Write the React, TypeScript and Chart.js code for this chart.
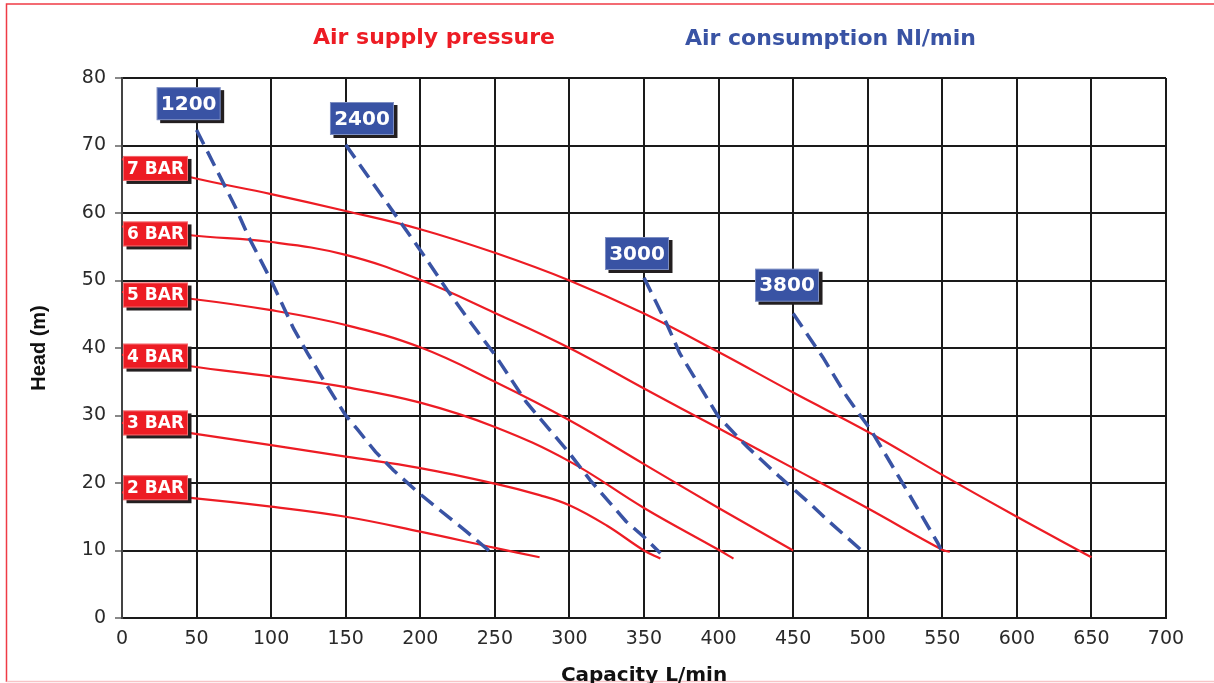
import React, { useEffect, useRef } from "react";
import { Chart, registerables } from "chart.js";

Chart.register(...registerables);

const RED = "#ed1c24";
const BLUE = "#3953a4";
const SHADOW = "#231f20";

// Axis ticks
const capacityMin = 0;
const capacityMax = 700;
const capacityStep = 50;
const headMin = 0;
const headMax = 80;
const headStep = 10;

// Air supply pressure curves: [capacity L/min, head m]
const pressureNames = ["7 BAR", "6 BAR", "5 BAR", "4 BAR", "3 BAR", "2 BAR"];
const bar7: [number, number][] = [
  [0, 68], [46, 65.3], [100, 62.8], [150, 60.3], [200, 57.6], [250, 54.1], [300, 50],
  [350, 45.1], [400, 39.4], [450, 33.4], [500, 27.6], [550, 21.2], [600, 15], [650, 9],
];
const bar6: [number, number][] = [
  [0, 58], [46, 56.7], [100, 55.7], [150, 53.8], [200, 50.1], [250, 45.2], [300, 40],
  [350, 34], [400, 28.1], [450, 22.2], [500, 16.25], [550, 10.1], [555, 9.8],
];
const bar5: [number, number][] = [
  [0, 48.3], [46, 47.3], [100, 45.6], [150, 43.4], [200, 40.1], [250, 35], [300, 29.3],
  [350, 22.8], [400, 16.3], [450, 10],
];
const bar4: [number, number][] = [
  [0, 39], [46, 37.3], [100, 35.8], [150, 34.2], [200, 31.9], [250, 28.3], [300, 23.2],
  [350, 16.3], [400, 10.1], [410, 8.8],
];
const bar3: [number, number][] = [
  [0, 28.9], [46, 27.4], [100, 25.6], [150, 23.9], [200, 22.2], [250, 19.9], [280, 18.2],
  [300, 16.7], [325, 13.7], [350, 10], [361, 8.8],
];
const bar2: [number, number][] = [
  [0, 18.6], [46, 17.8], [100, 16.5], [150, 15], [200, 12.8], [250, 10.4], [280, 9],
];
const pressureSeries = [bar7, bar6, bar5, bar4, bar3, bar2];
const pressureLabelHead = [66.6, 56.9, 47.85, 38.8, 28.9, 19.3];

// Air consumption curves (Nl/min): [capacity L/min, head m]
const consumptionNames = ["1200", "2400", "3000", "3800"];
const air1200: [number, number][] = [
  [50, 72.3], [76, 60.9], [85, 56.4], [100, 50], [115, 42.9], [125, 39], [135, 35.3],
  [150, 30], [158, 27.9], [170, 24.6], [182, 21.9], [198, 18.7], [213, 16], [231, 12.8], [248, 9.6],
];
const air2400: [number, number][] = [
  [150, 70.1], [184, 59.5], [200, 54.5], [218, 48.6], [231, 44.6], [250, 39], [271, 32],
  [300, 24.4], [314, 20.4], [338, 14.3], [350, 12], [361, 9.6],
];
const air3000: [number, number][] = [
  [350, 50.4], [365, 43.7], [374, 39.2], [400, 29.8], [419, 25.4], [441, 20.9], [461, 17],
  [473, 14.5], [498, 9.6],
];
const air3800: [number, number][] = [
  [450, 45.1], [470, 38.6], [486, 32.8], [495, 30], [502, 27.9], [526, 19], [547, 11.1], [549, 10.2],
];
const consumptionSeries = [air1200, air2400, air3000, air3800];
const consumptionLabelCapacity = [44.7, 160.9, 345.3, 445.9];
const consumptionLabelHead = [76.2, 74.0, 54.0, 49.3];

const toPoints = (s: [number, number][]) => s.map(([x, y]) => ({ x, y }));

function drawTag(ctx: CanvasRenderingContext2D, left: number, top: number, w: number, h: number, fill: string, text: string, font: string) {
  ctx.fillStyle = SHADOW;
  ctx.fillRect(left + 3.5, top + 3, w, h);
  ctx.fillStyle = fill;
  ctx.fillRect(left, top, w, h);
  ctx.strokeStyle = "rgba(255,255,255,0.35)";
  ctx.lineWidth = 1;
  ctx.strokeRect(left + 0.5, top + 0.5, w - 1, h - 1);
  ctx.fillStyle = "#ffffff";
  ctx.font = font;
  ctx.textAlign = "center";
  ctx.textBaseline = "middle";
  ctx.fillText(text, left + w / 2, top + h / 2 + 1);
}

const overlayPlugin = {
  id: "overlay",
  beforeDraw(chart: any) {
    const ctx: CanvasRenderingContext2D = chart.ctx;
    const area = chart.chartArea;
    ctx.save();
    ctx.fillStyle = "#ffffff";
    ctx.fillRect(0, 0, chart.width, chart.height);
    ctx.lineWidth = 1.5;
    ctx.strokeStyle = "#ef3b45";
    ctx.beginPath();
    ctx.moveTo(6.5, 682);
    ctx.lineTo(6.5, 4);
    ctx.lineTo(chart.width, 4);
    ctx.stroke();
    ctx.strokeStyle = "#f8c3c6";
    ctx.beginPath();
    ctx.moveTo(6.5, 681.5);
    ctx.lineTo(chart.width, 681.5);
    ctx.stroke();
    ctx.textAlign = "left";
    ctx.textBaseline = "alphabetic";
    ctx.font = "bold 22px 'DejaVu Sans'";
    ctx.fillStyle = RED;
    ctx.fillText("Air supply pressure", area.left + 191, 44);
    ctx.fillStyle = BLUE;
    ctx.fillText("Air consumption Nl/min", area.left + 563, 44.5);
    ctx.restore();
  },
  afterDatasetsDraw(chart: any) {
    const ctx: CanvasRenderingContext2D = chart.ctx;
    const { x, y } = chart.scales;
    ctx.save();
    pressureNames.forEach((name, i) => {
      const cy = y.getPixelForValue(pressureLabelHead[i]);
      const left = x.getPixelForValue(0) + 1;
      drawTag(ctx, left, cy - 12.5, 65, 25, RED, name, "bold 17px 'DejaVu Sans'");
    });
    consumptionNames.forEach((name, i) => {
      const cx = x.getPixelForValue(consumptionLabelCapacity[i]);
      const cy = y.getPixelForValue(consumptionLabelHead[i]);
      drawTag(ctx, cx - 32, cy - 16.5, 64, 33, BLUE, name, "bold 20px 'DejaVu Sans'");
    });
    ctx.restore();
  },
};

export default function App() {
  const ref = useRef<HTMLCanvasElement>(null);
  useEffect(() => {
    if (!ref.current) return;
    const datasets: any[] = [];
    consumptionSeries.forEach((s, i) => {
      datasets.push({
        label: consumptionNames[i] + " Nl/min",
        data: toPoints(s),
        borderColor: BLUE,
        borderWidth: 3.5,
        borderDash: [16, 8],
        pointRadius: 0,
        tension: 0,
        fill: false,
        order: 0,
      });
    });
    pressureSeries.forEach((s, i) => {
      datasets.push({
        label: pressureNames[i],
        data: toPoints(s),
        borderColor: RED,
        borderWidth: 2.2,
        pointRadius: 0,
        tension: 0.4,
        fill: false,
        order: 1,
      });
    });
    const chart = new Chart(ref.current, {
      type: "line",
      data: { datasets },
      plugins: [overlayPlugin],
      options: {
        responsive: false,
        animation: false,
        devicePixelRatio: 1,
        layout: { padding: { top: 78, right: 48, left: 0, bottom: 0 } },
        plugins: { legend: { display: false }, tooltip: { enabled: false }, title: { display: false } },
        scales: {
          x: {
            type: "linear",
            min: capacityMin,
            max: capacityMax,
            afterFit: (s: any) => { s.height = 65; },
            ticks: { stepSize: capacityStep, color: "#2a2a2a", font: { family: "'DejaVu Sans'", size: 19 }, padding: 10, maxRotation: 0 },
            grid: { color: "#1a1a1a", lineWidth: 2, drawTicks: false },
            border: { color: "#1a1a1a", width: 2 },
            title: {
              display: true,
              text: "Capacity L/min",
              color: "#111",
              font: { family: "'DejaVu Sans'", size: 20, weight: "bold", lineHeight: 1 },
              padding: { top: 0, bottom: -3 },
            },
          },
          y: {
            type: "linear",
            min: headMin,
            max: headMax,
            afterFit: (s: any) => { s.width = 122; },
            ticks: { stepSize: headStep, color: "#2a2a2a", font: { family: "'DejaVu Sans'", size: 19 }, padding: 9 },
            grid: { color: "#1a1a1a", lineWidth: 2, tickLength: 7, tickColor: "#888" },
            border: { color: "#444", width: 2 },
            title: {
              display: true,
              text: "Head (m)",
              color: "#111",
              font: { family: "'Liberation Sans', Arial, sans-serif", size: 20, weight: "bold", lineHeight: 1 },
              padding: { top: 29, bottom: 0 },
            },
          },
        },
      } as any,
    });
    return () => chart.destroy();
  }, []);
  return (
    <div style={{ position: "absolute", left: 0, top: 0, width: 1214, height: 683, background: "#fff" }}>
      <canvas ref={ref} width={1214} height={683} style={{ display: "block", width: 1214, height: 683 }} />
    </div>
  );
}
